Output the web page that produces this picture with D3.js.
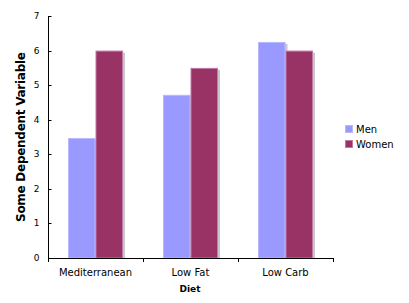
<!DOCTYPE html>
<html>
<head>
<meta charset="utf-8">
<script src="https://cdn.jsdelivr.net/npm/d3@7"></script>
<style>
	body { margin: 0; background: white; }
	svg text { font-family: "DejaVu Sans", Verdana, sans-serif; }
</style>
</head>
<body>
<div id="chart"></div>
<script>
const diets = ['Mediterranean', 'Low Fat', 'Low Carb']
const series = ['Men', 'Women']
const men = [3.47, 4.72, 6.25]
const women = [6.0, 5.5, 6.0]
const yTicks = [0, 1, 2, 3, 4, 5, 6, 7]

const colors = { Men: '#9999ff', Women: '#993366' }
const edges = { Men: '#b8b8ff', Women: '#c07aa8' }

const svg = d3.select('#chart')
	.append('svg')
	.attr('width', 409)
	.attr('height', 303)

const plotLeft = 48, plotRight = 333, plotTop = 16, plotBottom = 258

const xScale = d3.scaleBand()
	.domain(diets)
	.range([plotLeft, plotRight])

const inner = d3.scaleBand()
	.domain(series)
	.range([20, xScale.bandwidth() - 20])

const yScale = d3.scaleLinear()
	.domain([0, 7])
	.range([plotBottom, plotTop])

const data = diets.map((d, i) => ({ diet: d, Men: men[i], Women: women[i] }))

// shadows first
const g = svg.append('g')
data.forEach(function(d) {
	series.forEach(function(s) {
		const x = xScale(d.diet) + inner(s)
		g.append('rect')
			.attr('x', x + 2)
			.attr('y', yScale(d[s]) + 2)
			.attr('width', inner.bandwidth())
			.attr('height', plotBottom - yScale(d[s]) - 2)
			.attr('fill', '#c8c8c8')
	})
})
data.forEach(function(d) {
	series.forEach(function(s) {
		const x = xScale(d.diet) + inner(s)
		g.append('rect')
			.attr('x', x + 0.5)
			.attr('y', yScale(d[s]) + 0.5)
			.attr('width', inner.bandwidth() - 1)
			.attr('height', plotBottom - yScale(d[s]) - 0.5)
			.attr('fill', colors[s])
			.attr('stroke', edges[s])
			.attr('stroke-width', 1)
	})
})

// y axis, ticks point inward
const yAxis = svg.append('g')
	.attr('transform', 'translate(' + (plotLeft + 0.5) + ',0)')
	.call(d3.axisLeft(yScale).tickValues(yTicks).tickFormat(d3.format('d')).tickSize(-3).tickPadding(8))
yAxis.select('.domain').attr('stroke', '#000').attr('d', 'M0,' + plotTop + 'V' + (plotBottom + 0.5))
yAxis.selectAll('.tick line').attr('stroke', '#000')
yAxis.selectAll('.tick text').attr('font-size', 9).attr('fill', '#000').attr('x', -9)
yAxis.selectAll('.tick').attr('transform', d => 'translate(0,' + (Math.round(yScale(d)) + 0.5) + ')')

// x axis
svg.append('line')
	.attr('x1', plotLeft).attr('x2', plotRight + 1)
	.attr('y1', plotBottom + 0.5).attr('y2', plotBottom + 0.5)
	.attr('stroke', '#000')
const bounds = diets.map(d => xScale(d)).concat([plotRight])
svg.selectAll('.xtick')
	.data(bounds)
	.join('line')
	.attr('x1', d => Math.round(d) + 0.5).attr('x2', d => Math.round(d) + 0.5)
	.attr('y1', plotBottom).attr('y2', plotBottom + 4)
	.attr('stroke', '#000')
svg.selectAll('.xlabel')
	.data(diets)
	.join('text')
	.attr('x', d => xScale(d) + xScale.bandwidth() / 2)
	.attr('y', 276)
	.attr('text-anchor', 'middle')
	.attr('font-size', 10)
	.text(d => d)

svg.append('text')
	.attr('x', 190)
	.attr('y', 292)
	.attr('text-anchor', 'middle')
	.attr('font-size', 9)
	.attr('font-weight', 'bold')
	.text('Diet')

svg.append('text')
	.attr('transform', 'translate(25,137) rotate(-90)')
	.attr('text-anchor', 'middle')
	.attr('font-size', 12)
	.attr('font-weight', 'bold')
	.attr('textLength', 170)
	.text('Some Dependent Variable')

// legend
const legend = svg.append('g')
series.forEach(function(s, i) {
	legend.append('rect')
		.attr('x', 345.5)
		.attr('y', 125.5 + i * 15)
		.attr('width', 7)
		.attr('height', 7)
		.attr('fill', colors[s])
		.attr('stroke', edges[s])
	legend.append('text')
		.attr('x', 356)
		.attr('y', 133 + i * 15)
		.attr('font-size', 10)
		.text(s)
})
</script>
</body>
</html>
